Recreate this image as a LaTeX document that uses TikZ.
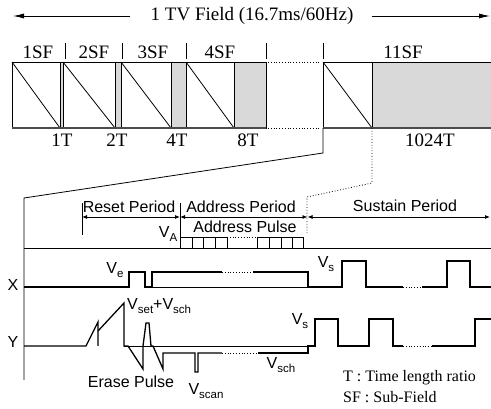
\documentclass[tikz,border=0pt]{standalone}
\usepackage{fontspec}
\setmainfont{Liberation Serif}
\setsansfont{Liberation Sans}
\usetikzlibrary{arrows.meta}
\newcommand\vsub[1]{V\raisebox{-0.45ex}{\fontsize{11.5}{11.5}\selectfont #1}}
\tikzset{
  toplbl/.style={font=\fontsize{19}{21}\selectfont, inner sep=0pt},
  slbl/.style={font=\sffamily\fontsize{16}{18}\selectfont, inner sep=0pt},
  leg/.style={font=\fontsize{16}{18}\selectfont, inner sep=0pt, anchor=west},
  thinln/.style={line width=0.8pt, black},
  wave/.style={line width=1.3pt, black, line join=miter},
  dotln/.style={line width=0.8pt, dotted},
  graybox/.style={fill=gray!30, draw=black, line width=0.8pt},
  bigarr/.style={line width=0.8pt, -{Latex[length=11pt,width=5pt]}},
  perarr/.style={line width=0.8pt, {Latex[length=5pt,width=4pt]}-{Latex[length=5pt,width=4pt]}}
}
\begin{document}
\begin{tikzpicture}[x=1pt,y=-1pt]
\useasboundingbox (0,0) rectangle (491,409);
% title
\node[toplbl] (title) at (252,16) {1 TV Field (16.7ms/60Hz)};
\coordinate (la) at (13,16);
\coordinate (ra) at (490,16);
\draw[bigarr] (title.west) ++(-20,0) -- (la);
\draw[bigarr] (title.east) ++(18,0) -- (ra);
% subfield labels
\node[toplbl] (sf1) at (38,52) {1SF};
\node[toplbl] (sf2) at (94,52) {2SF};
\node[toplbl] (sf3) at (153,52) {3SF};
\node[toplbl] (sf4) at (220,52) {4SF};
\node[toplbl] (sf11) at (403,52) {11SF};
\foreach \x in {65,122,186,266,323} \draw[thinln] (\x,43) -- (\x,59);
% boxes
\draw[graybox] (60,62) rectangle (63,128);
\draw[graybox] (115,62) rectangle (121,128);
\draw[graybox] (171,62) rectangle (186,128);
\draw[graybox] (234,62) rectangle (266,128);
\fill[gray!30] (372,62) rectangle (491,128);
\draw[thinln] (12,62) rectangle (60,128);
\draw[thinln] (63,62) rectangle (115,128);
\draw[thinln] (121,62) rectangle (171,128);
\draw[thinln] (186,62) rectangle (234,128);
\draw[thinln] (12,62) -- (60,128);
\draw[thinln] (63,62) -- (115,128);
\draw[thinln] (121,62) -- (171,128);
\draw[thinln] (186,62) -- (234,128);
\draw[thinln] (491,62) -- (323,62) -- (323,128) -- (491,128);
\draw[thinln] (372,62) -- (372,128);
\draw[thinln] (323,62) -- (372,128);
\draw[line width=1.2pt, gray!60!black] (12,128) -- (266,128);
\draw[line width=1.2pt, gray!60!black] (323,128) -- (491,128);
\draw[dotln] (268,62) -- (319,62);
\draw[dotln] (268,128) -- (319,128);
% ratio labels
\node[toplbl] (t1) at (62,140) {1T};
\node[toplbl] (t2) at (117,140) {2T};
\node[toplbl] (t4) at (177,140) {4T};
\node[toplbl] (t8) at (248,140) {8T};
\node[toplbl] (t1024) at (430,140) {1024T};
% zoom lines
\coordinate (z1) at (323,128);
\coordinate (z2) at (323,153);
\coordinate (z3) at (24,198);
\coordinate (z4) at (24,380);
\draw[thinln] (z1) -- (z2) -- (z3) -- (z4);
\coordinate (d1) at (372,128);
\coordinate (d2) at (372,183);
\coordinate (d3) at (307,197);
\coordinate (d4) at (307,233);
\draw[dotln] (d1) -- (d2) -- (d3) -- (d4);
% periods
\node[slbl] (rp) at (129,207) {Reset Period};
\node[slbl] (ap) at (241,207) {Address Period};
\node[slbl] (sp) at (405,206) {Sustain Period};
\node[slbl] (apl) at (245,227) {Address Pulse};
\coordinate (p0) at (82,217);
\coordinate (p1) at (180,217);
\coordinate (p2) at (307.5,217);
\coordinate (p3) at (490,217);
\draw[thinln] (82,203) -- (82,235);
\draw[thinln] (180,203) -- (180,248);
\draw[perarr] (p0) -- (p1);
\draw[perarr] (p1) -- (p2);
\draw[perarr] (p2) -- (p3);
% address row
\node[slbl] (va) at (168,234) {\vsub{A}};
\draw[thinln] (24,248) -- (491,248);
\draw[thinln] (180,248) -- (180,237) -- (227,237);
\foreach \x in {192,203,215,227} \draw[thinln] (\x,237) -- (\x,248);
\draw[dotln] (227,237) -- (257,237);
\draw[thinln] (257,248) -- (257,237) -- (303,237) -- (303,248);
\foreach \x in {269,281,292} \draw[thinln] (\x,237) -- (\x,248);
% X row
\node[slbl] (xl) at (13,285) {X};
\node[slbl] (ve) at (115,270) {\vsub{e}};
\node[slbl] (vsx) at (326,264) {\vsub{s}};
\draw[wave] (24,287) -- (129,287) -- (129,272) -- (145,272) -- (145,287) -- (152,287) -- (152,272) -- (222,272);
\draw[dotln] (222,272) -- (253,272);
\draw[wave] (253,272) -- (308,272) -- (308,287) -- (342,287) -- (342,261) -- (366,261) -- (366,287) -- (403,287);
\draw[dotln] (403,287) -- (422,287);
\draw[wave] (422,287) -- (447,287) -- (447,261) -- (470,261) -- (470,287) -- (491,287);
\draw[thinln] (152,287) -- (308,287);
% Y row
\node[slbl] (yl) at (13,342) {Y};
\node[slbl, anchor=west] (vset) at (127,306) {\vsub{set}+\vsub{sch}};
\node[slbl] (er) at (131,382) {Erase Pulse};
\node[slbl] (vscan) at (206,391) {\vsub{scan}};
\node[slbl] (vsch) at (281,365) {\vsub{sch}};
\node[slbl] (vsy) at (300,321) {\vsub{s}};
\draw[wave] (24,346) -- (86,346) -- (98,322) -- (98,346);
\draw[wave] (98,331) -- (124,303) -- (124,346) -- (128,346) -- (143,369) -- (143,346) -- (146,323) -- (149,323) -- (151,346) -- (153,346) -- (163,369) -- (163,353) -- (195,353) -- (195,372) -- (198,372) -- (198,353) -- (222,353);
\draw[dotln] (222,353) -- (258,353);
\draw[wave] (258,353) -- (308,353) -- (308,346) -- (315,346) -- (315,319) -- (338,319) -- (338,346) -- (369,346) -- (369,319) -- (393,319) -- (393,346) -- (403,346);
\draw[dotln] (403,346) -- (432,346);
\draw[wave] (432,346) -- (475,346) -- (475,319) -- (491,319);
\draw[thinln] (124,346) -- (308,346);
% legend
\node[leg] (lg1) at (343,378) {T : Time length ratio};
\node[leg] (lg2) at (343,397) {SF : Sub-Field};
\end{tikzpicture}
\end{document}
